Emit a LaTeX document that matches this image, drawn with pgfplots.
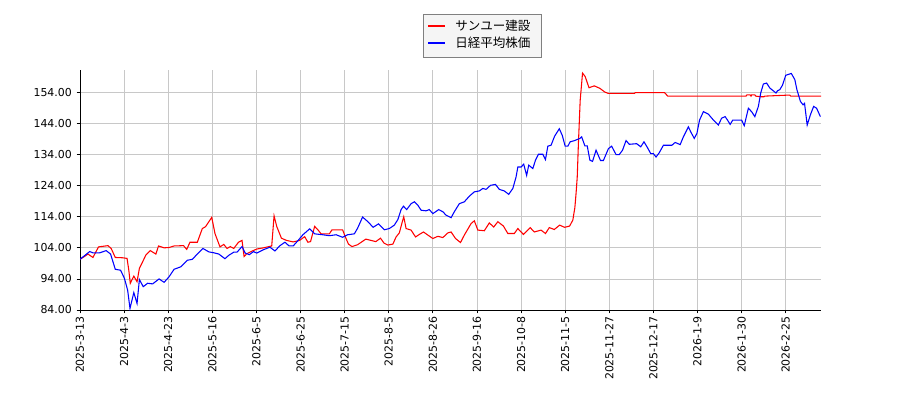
\documentclass[border=0pt]{standalone}
\usepackage{fontspec}
\setmainfont{DejaVu Sans}
\newfontfamily\cjk{Noto Sans CJK JP}
\usepackage{pgfplots}
\pgfplotsset{compat=1.18}

\definecolor{gridgray}{HTML}{C8C8C8}

\begin{document}
\begin{tikzpicture}
\path[use as bounding box] (-60pt,-67.5pt) rectangle (615pt,232.5pt);
\begin{axis}[
    scale only axis,
    width=555.75pt,
    height=180pt,
    xmin=0, xmax=252,
    ymin=84, ymax=161.2,
    axis x line*=bottom,
    axis y line*=left,
    tick align=outside,
    major tick length=2.6pt,
    every tick/.style={black, line width=0.6pt},
    axis line style={line width=0.7pt},
    xtick={0,15,30,45,60,75,90,105,120,135,150,165,180,195,210,225,240},
    xticklabels={2025-3-13,2025-4-3,2025-4-23,2025-5-16,2025-6-5,2025-6-25,2025-7-15,2025-8-5,2025-8-26,2025-9-16,2025-10-8,2025-11-5,2025-11-27,2025-12-17,2026-1-9,2026-1-30,2026-2-25},
    xticklabel style={rotate=90, anchor=east, font=\fontsize{8.2}{10}\selectfont, inner sep=2pt},
    ytick={84,94,104,114,124,134,144,154},
    yticklabel style={font=\fontsize{8.2}{10}\selectfont, /pgf/number format/.cd, fixed, fixed zerofill, precision=2},
    /pgf/number format/assume math mode=true,
    grid=major,
    grid style={gridgray, line width=0.6pt},
]
% サンユー建設
\addplot[red, line width=0.8pt] coordinates {
(0,100.3) (1.5,101.2) (2.7,102) (4.4,100.9) (6.3,104.3) (9.5,104.7) (10.6,103.8)
(12,100.9) (14.5,100.8) (16,100.6) (16.6,96.8) (17.1,92.6) (18.3,94.9) (19.4,93.1)
(20.2,97.4) (21.3,99.5) (22.4,101.7) (23.9,103.1) (25.8,102) (26.7,104.6) (28.6,104)
(30.3,104.1) (32,104.6) (35.2,104.7) (36.3,103.5) (37.4,105.8) (39.9,105.8) (41.6,110.2)
(42.7,110.8) (44.8,113.8) (45.9,108.6) (47.6,104.3) (48.9,105.1) (50,103.8) (51.1,104.4)
(52.3,103.8) (53.9,105.8) (55.1,106.4) (55.8,101.2) (56.7,102.1) (58.4,102.9) (60.1,103.6)
(62.4,104) (65.2,104.6) (66,114.3) (66.9,110.9) (68.5,107.1) (70.2,106.4) (72.5,105.9)
(74.7,106.4) (76.4,107.6) (77.5,105.8) (78.4,106) (79.8,110.9) (80.9,109.8) (82,108.5)
(84.8,108.5) (85.7,109.8) (89.3,109.8) (90.2,107.6) (91.3,105.2) (92.5,104.4) (94.4,105)
(97.2,106.8) (100.6,106) (102.2,107.1) (103.4,105.5) (104.7,104.9) (106.4,105.2) (107.5,107.5)
(108.6,108.8) (109.5,112) (110.1,114) (110.9,110.2) (112.6,109.7) (114.1,107.5) (115.4,108.3)
(116.8,109.1) (118.3,108.1) (120,107) (121.7,107.7) (123.4,107.3) (125.1,108.8) (126.2,109.1)
(127.7,107) (129.4,105.7) (130.7,108.1) (133,111.8) (134.1,112.7) (135.3,109.7) (137.5,109.5)
(139.2,112) (140.7,110.7) (142.1,112.4) (144,111) (145.5,108.6) (147.7,108.6) (148.9,110.2)
(150.8,108.3) (153.1,110.5) (154.5,109.1) (156.8,109.7) (158.3,108.6) (159.6,110.5) (161.3,109.9)
(163.1,111.3) (164.8,110.6) (166.5,111) (167.6,112.9) (168.3,117) (168.7,121.5) (169.1,126.8)
(169.5,137.5) (170.1,151.4) (170.9,160.2) (171.8,159.1) (173.1,155.5) (174.9,156.1) (176.8,155.3)
(178.5,154.1) (179.6,153.7) (188.6,153.7) (188.8,153.9) (198.8,153.9) (199.9,152.8) (226.5,152.8)
(226.8,153.2) (227.9,153.2) (228.2,152.8) (228.4,153.2) (229.5,153.2) (229.8,152.8) (231.5,152.6)
(232.6,152.6) (232.9,152.8) (240.3,153.1) (241.4,153.1) (241.7,152.8) (252,152.8)
};
% 日経平均株価
\addplot[blue, line width=0.8pt] coordinates {
(0,100.3) (3.3,102.8) (4.4,102.4) (6.7,102.4) (8.9,103.1) (10.4,102) (12,97.1) (13.8,96.8)
(15.1,94.2) (16.2,90.4) (17,84.5) (18.3,89.6) (19.4,86.1) (20.2,93.8) (21.5,91.5) (23,92.6)
(24.7,92.4) (26.9,94) (28.6,92.9) (30.3,94.7) (32,97.1) (34.3,97.9) (36.5,100) (38.2,100.3)
(39.9,102) (41.8,103.8) (43.8,102.7) (45.5,102.4) (47.2,102) (49.3,100.5) (50.6,101.6)
(52.3,102.6) (53.4,102.6) (55.1,104.4) (56.2,102.3) (57.6,101.8) (59,102.8) (60.1,102.3)
(62.4,103.4) (64.6,104.2) (66.3,103) (68,104.7) (69.7,105.8) (71.1,104.6) (72.5,104.6)
(74.2,106.4) (75.8,108.2) (78.1,110.1) (79.8,108.5) (82.6,108.2) (84.8,107.9) (87.1,108.2)
(89.3,107.4) (91,108.2) (93.3,108.5) (94.4,110.3) (96.1,113.9) (97.8,112.5) (99.7,110.6)
(101.5,111.7) (103.5,109.8) (105.2,110.2) (106.9,111.3) (108.1,113.1) (109.2,116.3) (110,117.4)
(111.1,116.3) (112.6,118.2) (113.7,118.8) (114.9,117.7) (116,116.1) (117.7,115.9) (118.8,116.3)
(120,115) (122,116.3) (123.4,115.6) (124.5,114.5) (126.2,113.7) (127.3,115.6) (129,118.2)
(130.7,118.8) (132.4,120.6) (134.1,122) (135.8,122.3) (137,123.1) (138.1,122.8) (139.6,124.1)
(141.3,124.4) (142.6,122.8) (144.3,122.3) (145.8,121.2) (147.2,123.1) (148.3,126.8) (148.9,130)
(150,130) (150.9,130.9) (151.9,127.3) (152.6,130.6) (154,129.5) (154.9,132.2) (155.9,134.1)
(157.4,134.1) (158.3,132.4) (159.1,136.7) (160.2,137) (161.4,139.9) (163,142.3) (164,140.2)
(165,136.7) (165.9,136.7) (166.7,138.1) (168.2,138.5) (170,139.2) (170.6,139.7) (171.7,136.8)
(172.5,136.8) (173.4,132.2) (174.3,131.8) (175.5,135.4) (177,132.1) (178,132.1) (179.7,135.9)
(180.8,136.7) (182.3,134) (183.4,134) (184.5,135.4) (185.7,138.5) (186.8,137.3) (189.3,137.5)
(190.7,136.5) (191.8,138.1) (193,136.2) (194.1,134.3) (195,134.3) (195.9,133.2) (197,134.6)
(198.4,137) (201.3,137) (202.4,137.9) (204.1,137.2) (205.2,139.7) (206.9,142.9) (207.7,141.3)
(208.9,139.2) (209.8,140.8) (210.7,145.1) (212,147.8) (213.7,147) (215.4,145.1) (217.1,143.5)
(218.2,145.7) (219.4,146.2) (220.2,145.1) (221.1,143.7) (222,145.1) (225,145.1) (225.9,143.3)
(227.3,148.9) (228.4,147.8) (229.5,146.2) (230.7,149.5) (231.5,153.8) (232.4,156.7) (233.5,157)
(234.6,155.4) (236.7,153.8) (237.2,154.5) (238,154.9) (238.9,156.3) (240,159.5) (241.9,160.1)
(243.1,158.1) (243.8,154.9) (245,151.1) (245.9,150) (246.4,150.5) (247.3,143.5) (248.4,146.8)
(249.5,149.5) (250.5,148.9) (251.8,146.2)
};
\end{axis}
% legend, drawn outside a matrix so the colours hold
\draw[gray, fill=gray!8, line width=0.6pt] (257.25pt,189.75pt) rectangle (345.75pt,222pt);
\draw[red, line width=0.9pt] (261pt,213pt) -- (273.75pt,213pt);
\draw[blue, line width=0.9pt] (261pt,200.25pt) -- (273.75pt,200.25pt);
\node[anchor=west, inner sep=0pt, font=\cjk\fontsize{9.4}{12}\selectfont] at (281.25pt,213pt) {サンユー建設};
\node[anchor=west, inner sep=0pt, font=\cjk\fontsize{9.4}{12}\selectfont] at (281.25pt,200.25pt) {日経平均株価};
\end{tikzpicture}
\end{document}
